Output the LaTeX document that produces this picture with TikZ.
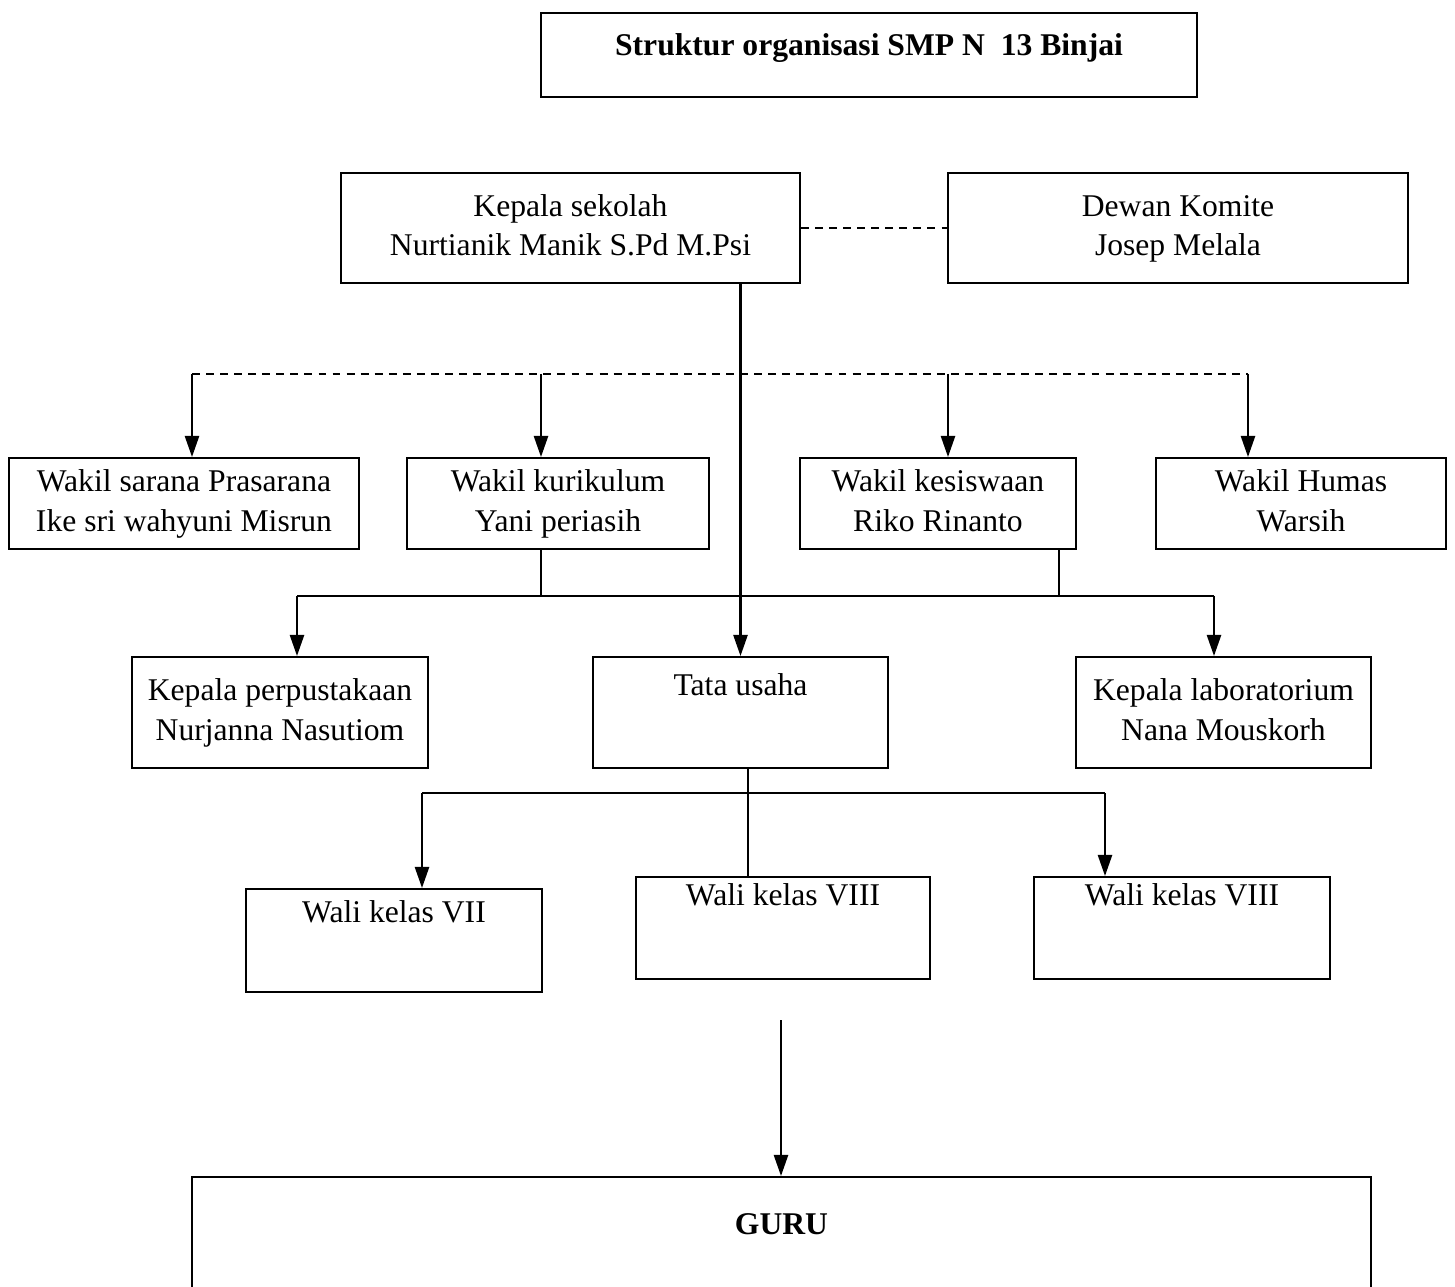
\documentclass[tikz,border=0pt]{standalone}
\usepackage{fontspec}
\setmainfont{Liberation Serif}
\usetikzlibrary{arrows.meta}
\begin{document}
\begin{tikzpicture}[x=0.02cm,y=-0.02cm,
  box/.style={draw, line width=1.1pt, rectangle, inner sep=0pt, align=center, font=\fontsize{18}{22.5}\selectfont},
  arr/.style={line width=1.3pt, -{Triangle[length=12pt,width=8pt]}},
  mainln/.style={line width=1.3pt},
  thinln/.style={line width=0.7pt},
  dashln/.style={line width=1.1pt, dash pattern=on 4.5pt off 3.5pt},
  lab/.style={font=\fontsize{18}{22.5}\selectfont, anchor=base, inner sep=0pt}
]
\useasboundingbox (0,0) rectangle (1455,1287);

% title
\node[box, minimum width=656*0.02cm, minimum height=84*0.02cm,
  label={[lab, font=\fontsize{18}{22.5}\selectfont\bfseries, yshift=-0.86cm]north:Struktur organisasi SMP N\ \ 13 Binjai}] (title) at (869,55) {};

% top level
\node[box, minimum width=459*0.02cm, minimum height=110*0.02cm] (ks) at (570.5,228) {\strut Kepala sekolah\\\strut Nurtianik Manik S.Pd M.Psi};
\node[box, minimum width=460*0.02cm, minimum height=110*0.02cm] (dk) at (1178,228) {\strut Dewan Komite\\\strut Josep Melala};

% wakil
\node[box, minimum width=350*0.02cm, minimum height=91*0.02cm] (ws) at (184,503.5) {\strut Wakil sarana Prasarana\\\strut Ike sri wahyuni Misrun};
\node[box, minimum width=302*0.02cm, minimum height=91*0.02cm] (wk) at (558,503.5) {\strut Wakil kurikulum\\\strut Yani periasih};
\node[box, minimum width=276*0.02cm, minimum height=91*0.02cm] (wss) at (938,503.5) {\strut Wakil kesiswaan\\\strut Riko Rinanto};
\node[box, minimum width=290*0.02cm, minimum height=91*0.02cm] (wh) at (1301,503.5) {\strut Wakil Humas\\\strut Warsih};

% third level
\node[box, minimum width=296*0.02cm, minimum height=111*0.02cm] (kp) at (280,712.5) {\strut Kepala perpustakaan\\\strut Nurjanna Nasutiom};
\node[box, minimum width=295*0.02cm, minimum height=111*0.02cm,
  label={[lab, yshift=-0.78cm]north:Tata usaha}] (tu) at (740.5,712.5) {};
\node[box, minimum width=295*0.02cm, minimum height=111*0.02cm] (kl) at (1223.5,712.5) {\strut Kepala laboratorium\\\strut Nana Mouskorh};

% wali kelas
\node[box, minimum width=296*0.02cm, minimum height=103*0.02cm,
  label={[lab, yshift=-0.68cm]north:Wali kelas VII}] (w7) at (394,940.5) {};
\node[box, minimum width=294*0.02cm, minimum height=102*0.02cm,
  label={[lab, yshift=-0.58cm]north:Wali kelas VIII}] (w8) at (783,928) {};
\node[box, minimum width=296*0.02cm, minimum height=102*0.02cm,
  label={[lab, yshift=-0.58cm]north:Wali kelas VIII}] (w9) at (1182,928) {};

% guru
\node[box, minimum width=1179*0.02cm, minimum height=123*0.02cm,
  label={[lab, font=\fontsize{18}{22.5}\selectfont\bfseries, yshift=-1.16cm]north:GURU}] (gu) at (781.5,1238.5) {};

% connectors
\draw[dashln] (ks) -- (dk);
\draw[arr] (ks.south -| tu.north) -- (tu.north);

\coordinate (b1) at (192,374);
\coordinate (b2) at (541,374);
\coordinate (b3) at (948,374);
\coordinate (b4) at (1248,374);
\draw[dashln] (b1) -- (b4);
\draw[arr] (b1) -- (b1 |- ws.north);
\draw[arr] (b2) -- (b2 |- wk.north);
\draw[arr] (b3) -- (b3 |- wss.north);
\draw[arr] (b4) -- (b4 |- wh.north);

\coordinate (c1) at (297,596);
\coordinate (c2) at (1214,596);
\coordinate (c3) at (1059,596);
\draw[mainln] (c1) -- (c2);
\draw[thinln] (wk.south -| b2) -- (b2 |- c1);
\draw[thinln] (wss.south -| c3) -- (c3);
\draw[arr] (c1) -- (c1 |- kp.north);
\draw[arr] (c2) -- (c2 |- kl.north);

\coordinate (d1) at (422,793);
\coordinate (d2) at (1105,793);
\coordinate (d0) at (748,793);
\draw[mainln] (d1) -- (d2);
\draw[thinln] (tu.south -| d0) -- (d0 |- w8.north);
\draw[arr] (d1) -- (d1 |- w7.north);
\draw[arr] (d2) -- (d2 |- w9.north);

\coordinate (g0) at (781,1020);
\draw[arr] (g0) -- (g0 |- gu.north);
\end{tikzpicture}
\end{document}
